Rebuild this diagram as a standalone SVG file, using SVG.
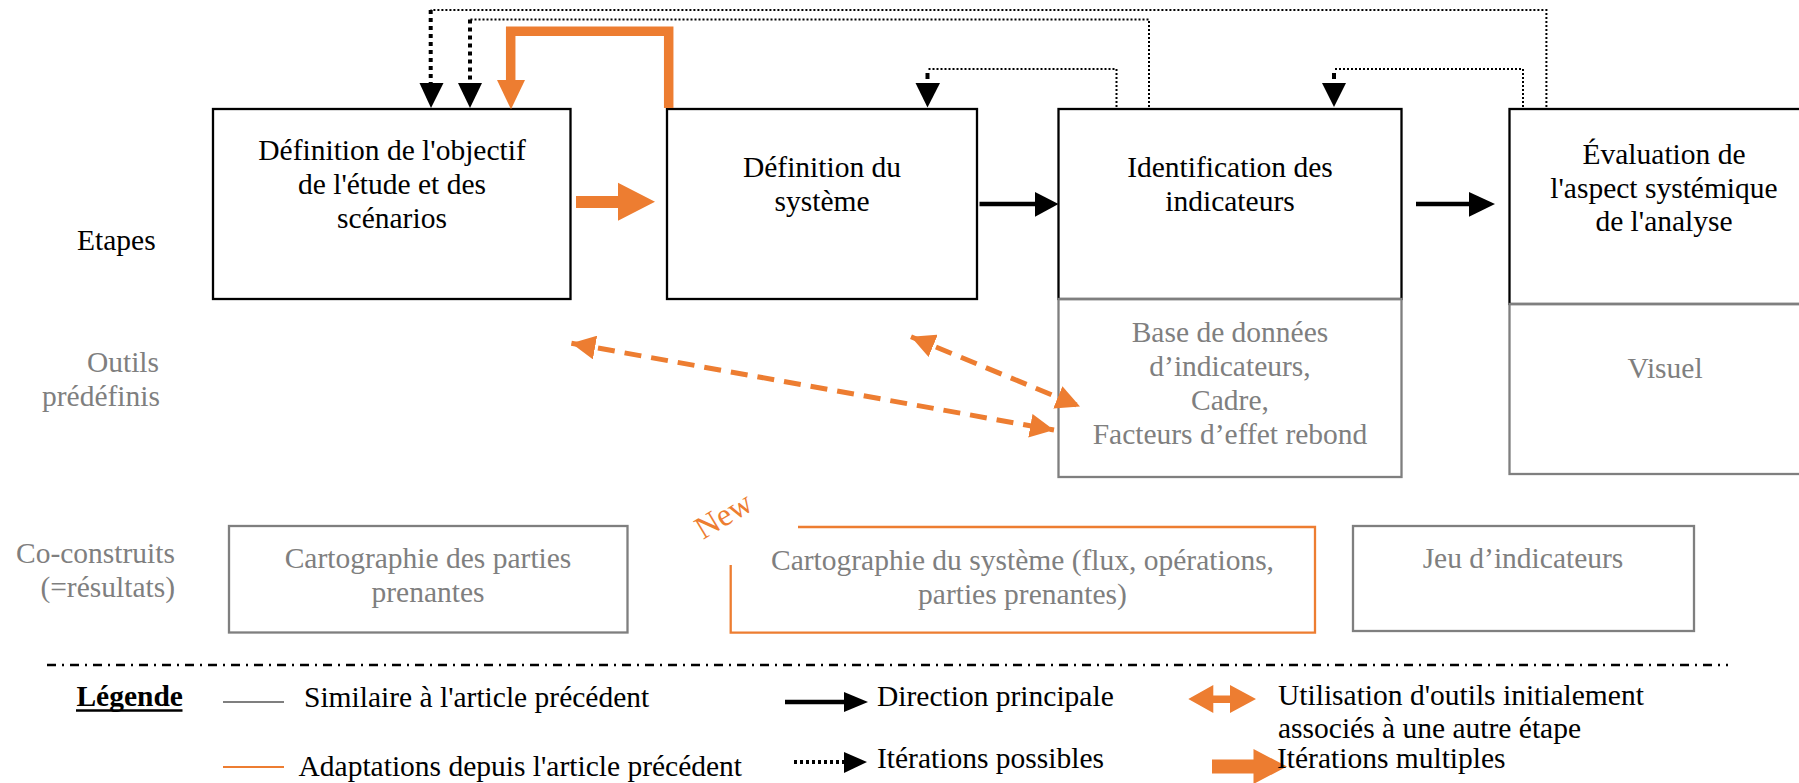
<svg xmlns="http://www.w3.org/2000/svg" width="1799" height="783" viewBox="0 0 1799 783">
<defs>
<style>
text{font-family:"Liberation Serif","Times New Roman",serif;font-size:29.5px;}
.c{text-anchor:middle;}
.e{text-anchor:end;}
.k{fill:#000;}
.g{fill:#7f7f7f;}
.step{fill:#fff;stroke:#000;stroke-width:2.3;}
.tool{fill:none;stroke:#7f7f7f;stroke-width:2.3;}
.thin{fill:none;stroke:#000;stroke-width:2;stroke-dasharray:2 2;}
.thick{fill:none;stroke:#000;stroke-width:4;stroke-dasharray:4 4;}
.odash{fill:none;stroke:#ED7D31;stroke-width:5;stroke-dasharray:17 10;}
</style>
<marker id="oh" viewBox="0 0 24 24" refX="24" refY="12" markerWidth="24" markerHeight="24" markerUnits="userSpaceOnUse" orient="auto-start-reverse">
<path d="M0,0 L24,12 L0,24 z" fill="#ED7D31"/>
</marker>
</defs>
<rect width="1799" height="783" fill="#fff"/>

<g id="row-labels">
<text x="77" y="250" class="k">Etapes</text>
<text x="159" y="372" class="e g">Outils</text>
<text x="160" y="406" class="e g">prédéfinis</text>
<text x="175" y="563" class="e g">Co-construits</text>
<text x="175" y="597" class="e g">(=résultats)</text>
</g>

<g id="step1">
<rect x="213" y="109" width="357.5" height="190" class="step"/>
<text x="392" y="160" class="c">Définition de l'objectif</text>
<text x="392" y="194" class="c">de l'étude et des</text>
<text x="392" y="228" class="c">scénarios</text>
</g>
<g id="step2">
<rect x="667" y="109" width="310" height="190" class="step"/>
<text x="822" y="177" class="c">Définition du</text>
<text x="822" y="211" class="c">système</text>
</g>
<g id="step3">
<rect x="1058.5" y="109" width="343" height="190" class="step"/>
<text x="1230" y="177" class="c">Identification des</text>
<text x="1230" y="211" class="c">indicateurs</text>
</g>
<g id="step4">
<rect x="1509.5" y="109" width="320" height="195" class="step"/>
<text x="1664" y="164" class="c">Évaluation de</text>
<text x="1664" y="198" class="c">l'aspect systémique</text>
<text x="1664" y="231" class="c">de l'analyse</text>
</g>

<g id="tool3">
<rect x="1058.5" y="299" width="343" height="178" class="tool"/>
<text x="1230" y="342" class="c g">Base de données</text>
<text x="1230" y="376" class="c g">d’indicateurs,</text>
<text x="1230" y="410" class="c g">Cadre,</text>
<text x="1230" y="444" class="c g">Facteurs d’effet rebond</text>
</g>
<g id="tool4">
<rect x="1509.5" y="304" width="320" height="170" class="tool"/>
<text x="1665" y="378" class="c g">Visuel</text>
</g>

<g id="result1">
<rect x="229" y="526" width="398.5" height="106.5" class="tool"/>
<text x="428" y="568" class="c g">Cartographie des parties</text>
<text x="428" y="602" class="c g">prenantes</text>
</g>
<g id="result2">
<path d="M798 527 H1315 V632.7 H730.7 V565" fill="none" stroke="#ED7D31" stroke-width="2.3"/>
<text x="1022.5" y="570" class="c g">Cartographie du système (flux, opérations,</text>
<text x="1022.5" y="604" class="c g">parties prenantes)</text>
<text x="703" y="540" fill="#ED7D31" style="font-size:32px" transform="rotate(-31 703 540)">New</text>
</g>
<g id="result3">
<rect x="1353" y="526" width="341" height="105" class="tool"/>
<text x="1523" y="568" class="c g">Jeu d’indicateurs</text>
</g>

<g id="connectors">
<polygon points="576,196 618,196 618,182.7 655,201.7 618,220.7 618,208 576,208" fill="#ED7D31"/>
<line x1="979.5" y1="204" x2="1037" y2="204" stroke="#000" stroke-width="4.5"/>
<polygon points="1035,192 1058.5,204 1035,216.7" fill="#000"/>
<line x1="1416" y1="204" x2="1471" y2="204" stroke="#000" stroke-width="4.5"/>
<polygon points="1469,192 1495,204 1469,216.7" fill="#000"/>

<path d="M1546.4 107 V10 H430.7" class="thin"/>
<line x1="430.7" y1="10" x2="430.7" y2="83" class="thick"/>
<polygon points="419.5,83 443.5,83 431,108" fill="#000"/>
<path d="M1149 107 V19.5 H470" class="thin"/>
<line x1="470" y1="19.5" x2="470" y2="83" class="thick"/>
<polygon points="458,83 482,83 470,108" fill="#000"/>
<path d="M1116.5 107 V69 H927" class="thin"/>
<line x1="927.5" y1="73" x2="927.5" y2="79" stroke="#000" stroke-width="4"/>
<polygon points="915.5,83 940,83 927.5,107.5" fill="#000"/>
<path d="M1523 107 V69 H1334" class="thin"/>
<line x1="1334" y1="73" x2="1334" y2="79" stroke="#000" stroke-width="4"/>
<polygon points="1322,83 1346,83 1334,107" fill="#000"/>

<path d="M668.7 108 V31.2 H510.7 V81" fill="none" stroke="#ED7D31" stroke-width="9.5" stroke-linejoin="miter"/>
<polygon points="497,80 525,80 511,109.3" fill="#ED7D31"/>

<line x1="571.4" y1="343.3" x2="1054" y2="430" class="odash" marker-start="url(#oh)" marker-end="url(#oh)"/>
<line x1="911" y1="336.7" x2="1080" y2="406.5" class="odash" marker-start="url(#oh)" marker-end="url(#oh)"/>
</g>

<g id="legend">
<line x1="47" y1="665" x2="1728" y2="665" stroke="#000" stroke-width="2.5" stroke-dasharray="9 6 2 6"/>
<text x="76.4" y="706" font-weight="bold">Légende</text>
<line x1="76" y1="710.5" x2="182.5" y2="710.5" stroke="#000" stroke-width="2.5"/>
<line x1="223" y1="702" x2="284" y2="702" stroke="#7f7f7f" stroke-width="2"/>
<text x="304" y="707">Similaire à l'article précédent</text>
<line x1="223" y1="767" x2="284" y2="767" stroke="#ED7D31" stroke-width="2"/>
<text x="298.5" y="776">Adaptations depuis l'article précédent</text>
<line x1="785" y1="702" x2="846" y2="702" stroke="#000" stroke-width="4.5"/>
<polygon points="844,692 868,702 844,712" fill="#000"/>
<text x="877" y="706">Direction principale</text>
<line x1="794" y1="762" x2="845" y2="762" stroke="#000" stroke-width="4" stroke-dasharray="3 3"/>
<polygon points="844,752 867,762 844,773" fill="#000"/>
<text x="877" y="768">Itérations possibles</text>
<polygon points="1188.3,699 1213.3,685 1213.3,695.5 1230,695.5 1230,685 1256,699 1230,713 1230,703 1213.3,703 1213.3,713" fill="#ED7D31"/>
<text x="1278" y="705">Utilisation d'outils initialement</text>
<text x="1278" y="738">associés à une autre étape</text>
<polygon points="1212,759.5 1253.5,759.5 1253.5,749 1287,766.5 1253.5,784 1253.5,773.5 1212,773.5" fill="#ED7D31"/>
<text x="1277" y="768">Itérations multiples</text>
</g>
</svg>
